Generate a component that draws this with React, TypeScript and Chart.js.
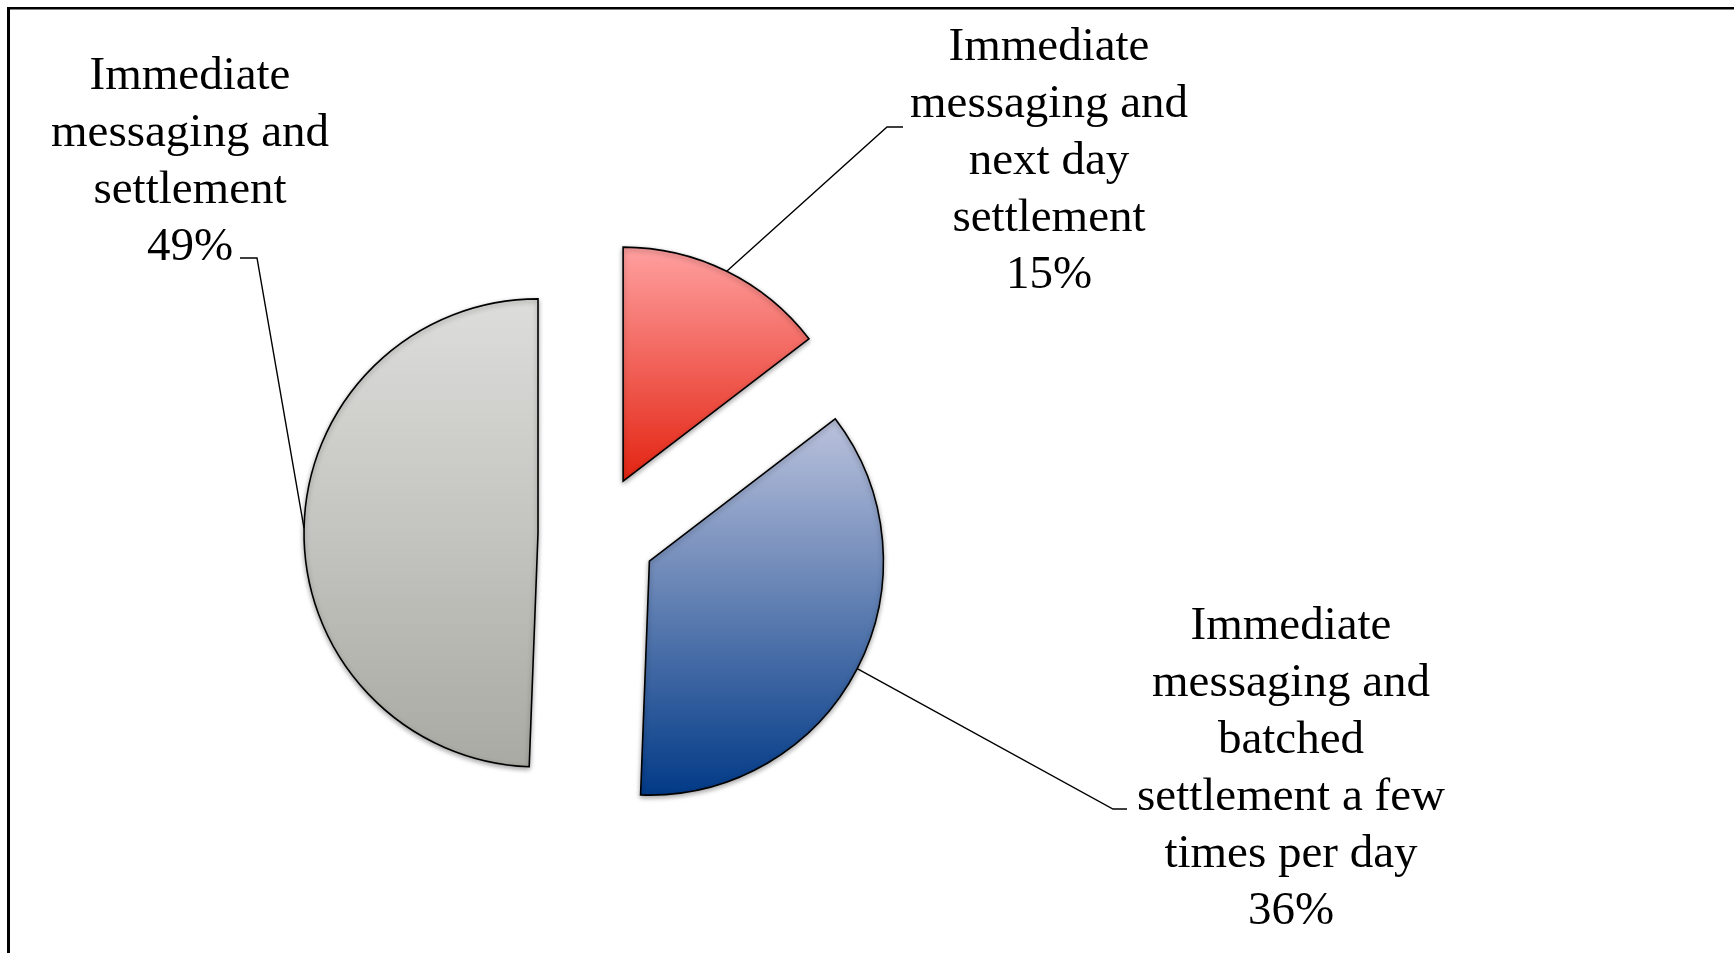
import React, { useEffect, useRef } from 'react';
import { Chart, registerables } from 'chart.js';

Chart.register(...registerables);

// ---- data ----
const categories = [
  'Immediate messaging and next day settlement',
  'Immediate messaging and batched settlement a few times per day',
  'Immediate messaging and settlement',
];
const values = [14.6, 36.0, 49.4];
const labelLines = [
  ['Immediate', 'messaging and', 'next day', 'settlement'],
  ['Immediate', 'messaging and', 'batched', 'settlement a few', 'times per day'],
  ['Immediate', 'messaging and', 'settlement'],
];
const gradientTop = ['#FFA0A0', '#BBC2DC', '#DDDDDB'];
const gradientBottom = ['#E32412', '#023A87', '#AAAAA4'];

// ---- layout / style ----
const W = 1734;
const H = 953;
const RADIUS = 234;
const EXPLODE = 59;
const CENTER = { x: 597, y: 534 };
const FONT = '47px "Liberation Serif", "Times New Roman", serif';
const LINE_H = 57;
const labelLayout = [
  { x: 1049, baseline: 60, elbow: [887, 127], end: [903, 127] },
  { x: 1291, baseline: 639, elbow: [1113, 809], end: [1127, 809] },
  { x: 190, baseline: 89, elbow: [257, 258], end: [240, 258] },
];

function sectorGradient(chart: any, index: number) {
  const area = chart.chartArea;
  if (!area) return gradientTop[index];
  const cx = (area.left + area.right) / 2;
  const cy = (area.top + area.bottom) / 2;
  const total = values.reduce((a, b) => a + b, 0);
  let cum = 0;
  for (let i = 0; i < index; i++) cum += values[i];
  const a0 = -Math.PI / 2 + (2 * Math.PI * cum) / total;
  const a1 = a0 + (2 * Math.PI * values[index]) / total;
  let minY = cy;
  let maxY = cy;
  for (let k = 0; k <= 200; k++) {
    const a = a0 + ((a1 - a0) * k) / 200;
    const y = cy + Math.sin(a) * RADIUS;
    minY = Math.min(minY, y);
    maxY = Math.max(maxY, y);
  }
  const g = chart.ctx.createLinearGradient(0, minY, 0, maxY);
  g.addColorStop(0, gradientTop[index]);
  g.addColorStop(1, gradientBottom[index]);
  return g;
}

const explodePlugin = {
  id: 'explodeSlices',
  beforeDatasetDraw(chart: any, args: any) {
    const ctx = chart.ctx;
    args.meta.data.forEach((arc: any) => {
      const mid = (arc.startAngle + arc.endAngle) / 2;
      ctx.save();
      ctx.translate(Math.cos(mid) * EXPLODE, Math.sin(mid) * EXPLODE);
      ctx.shadowColor = 'rgba(0,0,0,0.35)';
      ctx.shadowBlur = 5;
      ctx.shadowOffsetX = 0;
      ctx.shadowOffsetY = 2;
      arc.draw(ctx);
      ctx.restore();
    });
    return false;
  },
};

const labelPlugin = {
  id: 'sliceLabels',
  afterDatasetsDraw(chart: any) {
    const ctx = chart.ctx;
    const meta = chart.getDatasetMeta(0);
    const total = values.reduce((a, b) => a + b, 0);
    meta.data.forEach((arc: any, i: number) => {
      const mid = (arc.startAngle + arc.endAngle) / 2;
      const r = arc.outerRadius + EXPLODE;
      const ax = arc.x + Math.cos(mid) * r;
      const ay = arc.y + Math.sin(mid) * r;
      const L = labelLayout[i];
      ctx.save();
      ctx.strokeStyle = '#000';
      ctx.lineWidth = 1.4;
      ctx.beginPath();
      ctx.moveTo(ax, ay);
      ctx.lineTo(L.elbow[0], L.elbow[1]);
      ctx.lineTo(L.end[0], L.end[1]);
      ctx.stroke();
      ctx.fillStyle = '#000';
      ctx.font = FONT;
      ctx.textAlign = 'center';
      ctx.textBaseline = 'alphabetic';
      const lines = [...labelLines[i], Math.round((values[i] / total) * 100) + '%'];
      lines.forEach((t, k) => ctx.fillText(t, L.x, L.baseline + k * LINE_H));
      ctx.restore();
    });
  },
  afterDraw(chart: any) {
    const ctx = chart.ctx;
    ctx.save();
    ctx.fillStyle = '#000';
    ctx.fillRect(7, 7, W, 2.5);
    ctx.fillRect(7, 7, 3, H);
    ctx.restore();
  },
};

export default function App() {
  const ref = useRef<HTMLCanvasElement | null>(null);
  useEffect(() => {
    if (!ref.current) return;
    const chart = new Chart(ref.current, {
      type: 'pie',
      data: {
        labels: categories,
        datasets: [
          {
            data: values,
            backgroundColor: (c: any) => sectorGradient(c.chart, c.dataIndex),
            borderColor: '#000',
            borderWidth: 1.6,
            borderJoinStyle: 'miter',
            offset: 0,
          } as any,
        ],
      },
      options: {
        responsive: false,
        animation: false,
        events: [],
        radius: RADIUS,
        layout: {
          padding: { left: 0, right: W - 2 * CENTER.x, top: 2 * CENTER.y - H, bottom: 0 },
        },
        plugins: {
          legend: { display: false },
          tooltip: { enabled: false },
          title: { display: false },
        },
      } as any,
      plugins: [explodePlugin, labelPlugin],
    });
    return () => chart.destroy();
  }, []);
  return (
    <div style={{ position: 'fixed', left: 0, top: 0, width: W, height: H, background: '#fff' }}>
      <canvas ref={ref} width={W} height={H} style={{ display: 'block' }} />
    </div>
  );
}
